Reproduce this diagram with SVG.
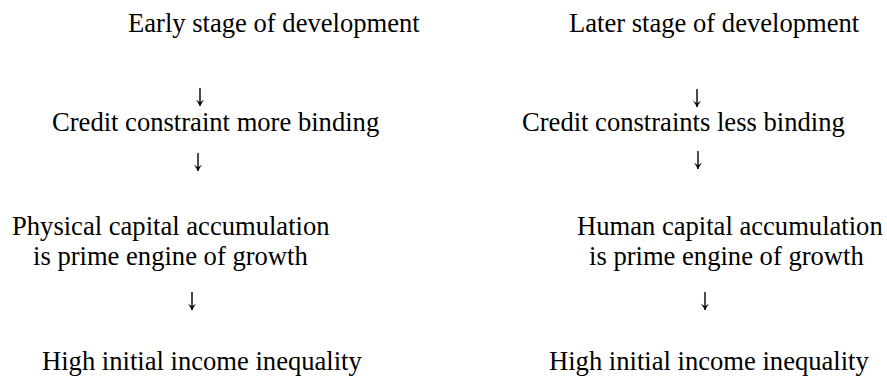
<svg xmlns="http://www.w3.org/2000/svg" width="887" height="377" viewBox="0 0 887 377">
  <style>
    text { font-size: 26.6px; fill: #000; }
    .arr { stroke: #000; stroke-width: 1.4; fill: none; }
  </style>
  <defs>
    <!-- small arrowhead, drawn along +x so orient="auto" turns it with the line -->
    <marker id="head" viewBox="0 0 10 10" refX="9" refY="5" markerWidth="8" markerHeight="8" markerUnits="userSpaceOnUse" orient="auto">
      <path d="M1,0 L9,5 L1,10 L4.5,5 Z" fill="#000" stroke="none"/>
    </marker>
  </defs>
  <rect width="887" height="377" fill="#fff"/>

  <g font-family="Liberation Serif">
    <!-- left column: early stage -->
    <g id="early-stage"><text x="128" y="32">Early stage of development</text></g>
    <g id="credit-more"><text x="52" y="131">Credit constraint more binding</text></g>
    <g id="physical-capital">
      <text x="12" y="235">Physical capital accumulation</text>
      <text x="33" y="265">is prime engine of growth</text>
    </g>
    <g id="inequality-left"><text x="42" y="370">High initial income inequality</text></g>

    <!-- right column: later stage -->
    <g id="later-stage"><text x="569" y="32">Later stage of development</text></g>
    <g id="credit-less"><text x="522" y="131">Credit constraints less binding</text></g>
    <g id="human-capital">
      <text x="577" y="235">Human capital accumulation</text>
      <text x="589" y="265">is prime engine of growth</text>
    </g>
    <g id="inequality-right"><text x="549" y="370">High initial income inequality</text></g>
  </g>

  <!-- connectors -->
  <g id="connectors" class="arr">
    <path d="M200,88 V106" marker-end="url(#head)"/>
    <path d="M198,153 V171" marker-end="url(#head)"/>
    <path d="M192,292 V310" marker-end="url(#head)"/>
    <path d="M697,89 V107" marker-end="url(#head)"/>
    <path d="M698,151 V169" marker-end="url(#head)"/>
    <path d="M705,292 V310" marker-end="url(#head)"/>
  </g>
</svg>
